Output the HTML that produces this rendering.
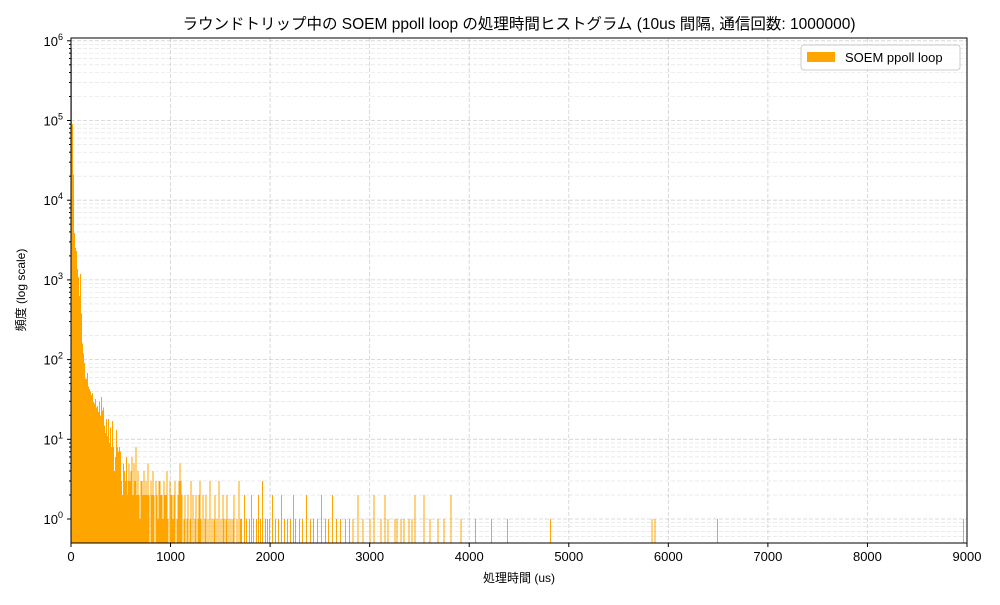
<!DOCTYPE html>
<html><head><meta charset="utf-8">
<style>
body{margin:0;background:#fff;}
svg text{font-family:"Liberation Sans","Noto Sans CJK JP",sans-serif;fill:#000;}
</style></head>
<body>
<svg id="chart" width="1000" height="600" viewBox="0 0 1000 600" xmlns="http://www.w3.org/2000/svg">
<rect width="1000" height="600" fill="#fff"/>
<text x="519" y="29" font-size="15.5" text-anchor="middle">ラウンドトリップ中の SOEM ppoll loop の処理時間ヒストグラム (10us 間隔, 通信回数: 1000000)</text>
<g id="grid"></g>
<g id="bars" shape-rendering="crispEdges"></g>
<rect x="71" y="38" width="896" height="505" fill="none" stroke="#000" stroke-width="1"/>
<g id="axes"></g>
<text x="519" y="582" font-size="12" text-anchor="middle">処理時間 (us)</text>
<text transform="translate(25,290) rotate(-90)" font-size="12" text-anchor="middle">頻度 (log scale)</text>
<g>
<rect x="801" y="45" width="159" height="25" rx="3" fill="#fff" fill-opacity="0.8" stroke="#ccc"/>
<rect x="807" y="52" width="28" height="10" fill="orange"/>
<text x="845" y="62" font-size="13">SOEM ppoll loop</text>
</g>
</svg>
<script>
const binWidth = 10;
const headCounts = [800000,90000,21000,3900,2500,2300,1370,1080,630,1180,380,160,120,90,58,57,68,46,43,40,36,38,30,28,32,25,26,22,30,20,34,23,25,15,12,18,11,18,9,14,8,17,8,4,6,13,8,7,8,7,3,2,5,4,3,6,2,3,5,3,4,6,2,5,3,8,2,4,2,1,3];
const tailBins = [71,72,73,74,75,76,77,78,80,81,82,83,85,86,87,88,89,90,91,92,93,94,95,96,97,99,100,101,102,103,104,106,107,108,109,110,111,113,114,116,117,119,120,122,124,125,127,128,129,130,132,134,135,137,139,141,143,144,146,148,150,152,153,155,156,158,160,162,163,166,168,170,171,174,176,179,181,183,186,188,190,192,195,197,199,202,205,208,211,214,217,220,223,225,229,232,236,240,243,247,251,255,258,262,266,270,275,279,283,288,293,300,304,311,315,318,325,327,331,334,339,342,345,354,360,368,374,381,391,406,422,438,481,583,586,649,896];
const tailCounts = [3,2,4,2,3,2,5,2,3,2,4,2,3,2,1,3,3,2,2,1,3,2,2,4,1,3,2,2,1,2,3,1,2,3,5,3,2,1,2,1,2,1,3,2,1,2,1,2,3,1,2,1,2,1,3,1,1,2,1,3,1,2,1,1,2,1,1,1,2,1,3,1,1,2,1,1,2,1,1,2,1,3,1,1,1,2,1,1,2,1,1,1,2,1,1,1,2,1,1,1,2,1,1,2,1,1,1,1,1,2,1,1,2,1,2,1,1,1,1,1,1,1,2,2,1,1,1,2,1,1,1,1,1,1,1,1,1];
const xTicks = [0,1000,2000,3000,4000,5000,6000,7000,8000,9000];
const yTickExps = [0,1,2,3,4,5,6];

const L=71,R=967,T=38,B=543, xMax=9000, yMinLog=Math.log10(0.5), yMaxLog=6.035;
const xs = v => L + (v/xMax)*(R-L);
const ys = v => B - (Math.log10(v)-yMinLog)/(yMaxLog-yMinLog)*(B-T);
const NS="http://www.w3.org/2000/svg";
function mk(tag, attrs, parent){const e=document.createElementNS(NS,tag);for(const k in attrs)e.setAttribute(k,attrs[k]);parent.appendChild(e);return e;}
const grid=document.getElementById('grid'), bars=document.getElementById('bars'), axes=document.getElementById('axes');

xTicks.forEach(t=>{
  const x=xs(t);
  const g=mk('line',{x1:x,x2:x,y1:T,y2:B,stroke:'#b0b0b0','stroke-width':0.8,'stroke-dasharray':'4,2','stroke-opacity':0.6},grid);
  
  
  const tk=mk('line',{x1:x,x2:x,y1:B,y2:B+4,stroke:'#000'},axes);
  
  
  const lb=mk('text',{x:x,y:B+18,'font-size':13,'text-anchor':'middle'},axes);
  lb.textContent=t;
  
  
});
yTickExps.forEach(e=>{
  for(let m=1;m<10;m++){
    const v=m*Math.pow(10,e);
    if(Math.log10(v)>yMaxLog) continue;
    const y=ys(v);
    const g=mk('line',{x1:L,x2:R,y1:y,y2:y,stroke:'#b0b0b0','stroke-width':m===1?0.8:0.6,'stroke-dasharray':'4,2','stroke-opacity':m===1?0.6:0.4},grid);
    
    
    const tk=mk('line',{x1:L-(m===1?4:2),x2:L,y1:y,y2:y,stroke:'#000'},axes);
    
    
  }
  const y=ys(Math.pow(10,e));
  const lb=mk('text',{x:L-8,y:y+5,'font-size':13,'text-anchor':'end'},axes);
  lb.innerHTML='10<tspan dy="-6" font-size="9">'+e+'</tspan>';
  
  
});
[0.5,0.6,0.7,0.8,0.9].forEach(v=>{const y=ys(v);if(y<B){const g=mk('line',{x1:L,x2:R,y1:y,y2:y,stroke:'#b0b0b0','stroke-width':0.6,'stroke-dasharray':'4,2','stroke-opacity':0.4},grid);}});

function bar(i,c){
  if(c<=0) return;
  const x0=xs(i*binWidth), x1=xs((i+1)*binWidth), y=ys(c);
  const r=mk('rect',{x:x0,y:y,width:Math.max(x1-x0,1),height:B-y,fill:'orange'},bars);
  
  
}
headCounts.forEach((c,i)=>bar(i,c));
tailBins.forEach((b,i)=>bar(b,tailCounts[i]));
</script>
</body></html>
